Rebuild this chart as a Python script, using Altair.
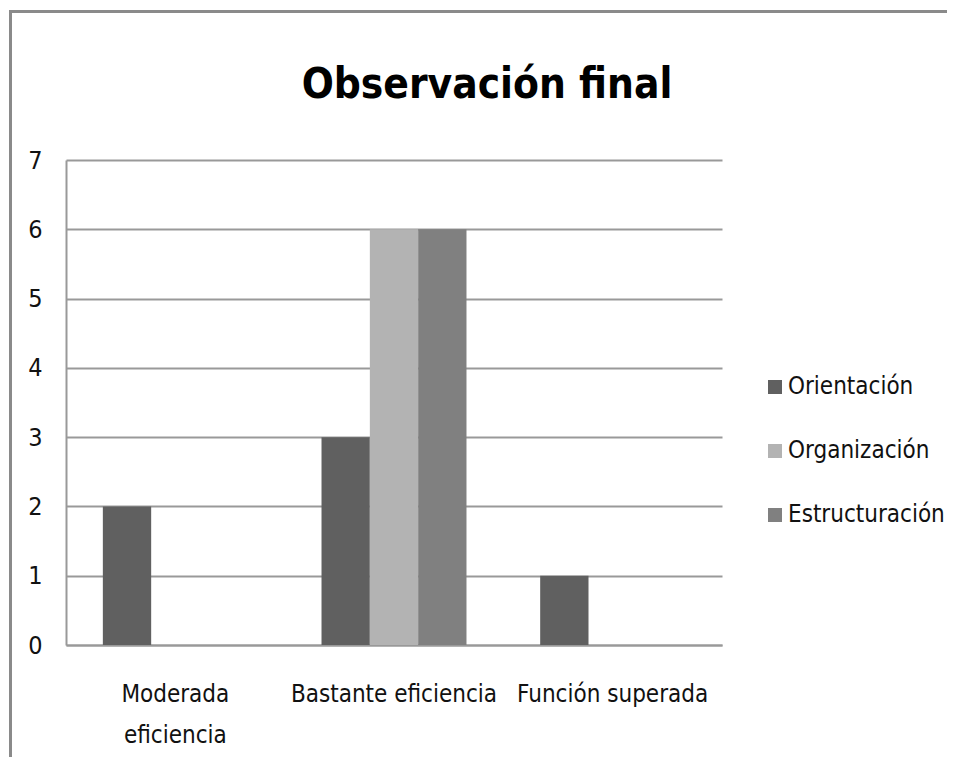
import altair as alt
import pandas as pd

categories = ["Moderada eficiencia", "Bastante eficiencia", "Función superada"]
series = ["Orientación", "Organización", "Estructuración"]
orientacion = [2, 3, 1]
organizacion = [0, 6, 0]
estructuracion = [0, 6, 0]
colors = ["#606060", "#b3b3b3", "#808080"]

rows = []
for i, c in enumerate(categories):
    for s, vals in zip(series, [orientacion, organizacion, estructuracion]):
        rows.append({"categoria": c, "serie": s, "valor": vals[i]})
df = pd.DataFrame(rows)

FONT = "DejaVu Sans Condensed, DejaVu Sans, sans-serif"
GRID = "#999999"

bars = alt.Chart(df).mark_bar().encode(
    x=alt.X("categoria:N", sort=categories, title=None,
            scale=alt.Scale(paddingInner=0.337, paddingOuter=0.1685),
            axis=alt.Axis(labelAngle=0, ticks=False, domainColor=GRID, domainWidth=2,
                          labelFontSize=24, labelFont=FONT, labelColor="#111111", labelLimit=0,
                          labelPadding=37, labelBaseline="top", labelLineHeight=41,
                          labelExpr="datum.value == 'Moderada eficiencia' ? split(datum.value, ' ') : datum.value")),
    xOffset=alt.XOffset("serie:N", sort=series, scale=alt.Scale(paddingInner=0, paddingOuter=0)),
    y=alt.Y("valor:Q", title=None, scale=alt.Scale(domain=[0, 7], nice=False),
            axis=alt.Axis(values=list(range(8)), ticks=False, grid=True, gridColor=GRID, gridWidth=2,
                          domainColor=GRID, domainWidth=2, labelFontSize=25, labelFont=FONT,
                          labelColor="#111111", labelPadding=24)),
    color=alt.Color("serie:N", sort=series, scale=alt.Scale(domain=series, range=colors),
                    legend=alt.Legend(title=None, orient="none", legendX=697, legendY=215,
                                      symbolType="square", symbolSize=196, symbolStrokeWidth=0,
                                      symbolOpacity=1, labelFontSize=24, labelFont=FONT, labelLimit=0,
                                      labelColor="#111111", labelOffset=1, rowPadding=40, padding=0)),
)

border_df = pd.DataFrame({"k": [0]})
top_border = alt.Chart(border_df).mark_rule(color="#8a8a8a", strokeWidth=3).encode(
    x=alt.value(-57), x2=alt.value(900), y=alt.value(-148.5))
left_border = alt.Chart(border_df).mark_rule(color="#8a8a8a", strokeWidth=3).encode(
    x=alt.value(-55.5), y=alt.value(-150), y2=alt.value(620))

chart = alt.layer(bars, top_border, left_border).properties(
    width=656, height=485,
    padding={"left": 58, "top": 152, "right": 225, "bottom": 112},
    autosize=alt.AutoSizeParams(type="none"),
    title=alt.TitleParams("Observación final", fontSize=42, font=FONT, fontWeight="bold",
                          color="#000000", anchor="middle", dx=93, offset=0, dy=131,
                          baseline="alphabetic"),
).configure_view(stroke=None)

chart.save("out.html", embed_options={"renderer": "svg", "actions": False})
